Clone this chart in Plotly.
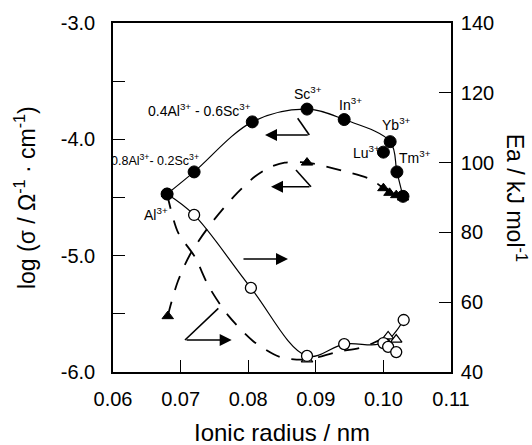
import plotly.graph_objects as go

FONT = "Liberation Sans, Arial, Helvetica, sans-serif"

# ---- log(sigma) : filled circles (left axis) ----
sig_labels = ["Al", "0.8Al-0.2Sc", "0.4Al-0.6Sc", "Sc", "In", "Yb", "Lu", "Tm", "end"]
sig_x = [0.0680, 0.0720, 0.0806, 0.0887, 0.0942, 0.1010, 0.1000, 0.1020, 0.1029]
sig_y = [-4.47, -4.28, -3.85, -3.74, -3.83, -4.02, -4.11, -4.28, -4.49]
sig_line_idx = [0, 1, 2, 3, 4, 5, 7, 8]   # solid curve (Lu lies off the curve)

# ---- log(sigma) : filled triangles (left axis) + hand drawn dashed curve ----
tri_x = [0.0681, 0.0887, 0.1000, 0.1009, 0.1019, 0.1029]
tri_y = [-5.52, -4.20, -4.42, -4.46, -4.48, -4.50]
curveA_x = [0.0681, 0.0686, 0.0696, 0.0714, 0.0743, 0.0779, 0.0810, 0.0832, 0.0854,
            0.0887, 0.0906, 0.0939, 0.0980, 0.1000, 0.1009, 0.1019, 0.1029]
curveA_y = [-5.52, -5.41, -5.22, -4.99, -4.74, -4.49, -4.32, -4.24, -4.20,
            -4.20, -4.22, -4.27, -4.34, -4.42, -4.46, -4.48, -4.50]

# ---- Ea : open circles (right axis) ----
ea_x = [0.0680, 0.0720, 0.0804, 0.0887, 0.0942, 0.1000, 0.1007, 0.1019, 0.1030]
ea_y = [91.0, 85.0, 64.1, 44.6, 48.0, 48.3, 47.2, 45.7, 54.9]
ea_line_idx = [0, 1, 2, 3, 4, 5, 8]

# ---- Ea : open triangles (right axis) + dashed curve ----
otri_x = [0.0680, 0.0887, 0.1003, 0.1007, 0.1019]
otri_y = [91.0, 43.6, 49.0, 50.2, 49.3]
curveB_x = [0.0680, 0.0696, 0.0721, 0.0742, 0.0770, 0.0807, 0.0847, 0.0887,
            0.0931, 0.0971, 0.1007, 0.1019]
curveB_y = [91.0, 80.1, 73.0, 64.4, 56.3, 48.9, 44.3, 43.6,
            45.7, 47.2, 50.0, 49.3]

# ---- axes ----
x_ticks = [0.06, 0.07, 0.08, 0.09, 0.10, 0.11]
x_ticktext = ["0.06", "0.07", "0.08", "0.09", "0.10", "0.11"]
y1_ticks = [-6.0, -5.5, -5.0, -4.5, -4.0, -3.5, -3.0]
y1_ticktext = ["-6.0", "", "-5.0", "", "-4.0", "", "-3.0"]
y2_ticks = [40, 60, 80, 100, 120, 140]
y2_ticktext = ["40", "60", "80", "100", "120", "140"]

# ---- point labels (text, x, y, anchor, font size) ----
point_labels = [
    ("Al<sup>3+</sup>", 0.06636, -4.640, "center", 14),
    ("0.8Al<sup>3+</sup>- 0.2Sc<sup>3+</sup>", 0.07305, -4.180, "right", 12.5),
    ("0.4Al<sup>3+</sup> - 0.6Sc<sup>3+</sup>", 0.08075, -3.750, "right", 14),
    ("Sc<sup>3+</sup>", 0.08885, -3.605, "center", 14),
    ("In<sup>3+</sup>", 0.09506, -3.700, "center", 14),
    ("Yb<sup>3+</sup>", 0.10201, -3.872, "center", 14),
    ("Lu<sup>3+</sup>", 0.09743, -4.113, "center", 14),
    ("Tm<sup>3+</sup>", 0.10467, -4.155, "center", 14),
]

BLACK = "black"
fig = go.Figure()

# Ea (right axis = yaxis, base layer)
fig.add_trace(go.Scatter(x=curveB_x, y=curveB_y, yaxis="y", mode="lines",
                         line=dict(color=BLACK, width=1.8, dash="15px,12px", shape="spline", smoothing=0.8),
                         hoverinfo="skip", showlegend=False))
fig.add_trace(go.Scatter(x=[ea_x[i] for i in ea_line_idx], y=[ea_y[i] for i in ea_line_idx],
                         yaxis="y", mode="lines",
                         line=dict(color=BLACK, width=1.2, shape="spline", smoothing=1.0),
                         showlegend=False))
fig.add_trace(go.Scatter(x=otri_x, y=otri_y, yaxis="y", mode="markers",
                         marker=dict(symbol="triangle-up", size=10, color="white",
                                     line=dict(color=BLACK, width=1.2)),
                         showlegend=False))
fig.add_trace(go.Scatter(x=ea_x, y=ea_y, yaxis="y", mode="markers",
                         marker=dict(symbol="circle", size=11, color="white",
                                     line=dict(color=BLACK, width=1.3)),
                         showlegend=False))

# log sigma (left axis = yaxis2, overlay layer on top)
fig.add_trace(go.Scatter(x=curveA_x, y=curveA_y, yaxis="y2", mode="lines",
                         line=dict(color=BLACK, width=1.8, dash="15px,12px", shape="spline", smoothing=0.8),
                         hoverinfo="skip", showlegend=False))
fig.add_trace(go.Scatter(x=tri_x, y=tri_y, yaxis="y2", mode="markers",
                         marker=dict(symbol="triangle-up", size=10, color=BLACK,
                                     line=dict(color=BLACK, width=1)),
                         showlegend=False))
fig.add_trace(go.Scatter(x=[sig_x[i] for i in sig_line_idx], y=[sig_y[i] for i in sig_line_idx],
                         yaxis="y2", mode="lines",
                         line=dict(color=BLACK, width=1.2, shape="spline", smoothing=1.0),
                         showlegend=False))
fig.add_trace(go.Scatter(x=sig_x, y=sig_y, yaxis="y2", mode="markers", text=sig_labels,
                         marker=dict(symbol="circle", size=12, color=BLACK,
                                     line=dict(color=BLACK, width=1)),
                         showlegend=False))

annotations = []
for txt, lx, ly, anchor, fs in point_labels:
    annotations.append(dict(x=lx, y=ly, xref="x", yref="y2", text=txt, showarrow=False,
                            xanchor=anchor, yanchor="middle",
                            font=dict(family=FONT, size=fs, color=BLACK)))

# indicator arrows: (diagonal start, corner, arrow tip)
arrows = [
    ((0.08732, -3.819), (0.08904, -3.963), (0.08249, -3.963)),
    ((0.08707, -4.264), (0.08929, -4.407), (0.08337, -4.407)),
    (None, (0.07908, -5.029), (0.08589, -5.029)),
    ((0.07558, -5.453), (0.07065, -5.725), (0.07756, -5.725)),
]
shapes = []
for start, corner, tip in arrows:
    if start is not None:
        shapes.append(dict(type="line", xref="x", yref="y2", x0=start[0], y0=start[1],
                           x1=corner[0], y1=corner[1], line=dict(color=BLACK, width=1.6)))
    annotations.append(dict(x=tip[0], y=tip[1], ax=corner[0], ay=corner[1],
                            xref="x", yref="y2", axref="x", ayref="y2", text="",
                            showarrow=True, arrowhead=2, arrowsize=1.6, arrowwidth=1.5,
                            arrowcolor=BLACK, standoff=0, startstandoff=0))

# axis titles
annotations.append(dict(x=0.5, y=-0.172, xref="paper", yref="paper", text="Ionic radius / nm",
                        showarrow=False, xanchor="center", yanchor="middle",
                        font=dict(family=FONT, size=24, color=BLACK)))
annotations.append(dict(x=-0.26, y=0.4986, xref="paper", yref="paper",
                        text="log (σ / Ω<sup>-1</sup> · cm<sup>-1</sup>)", textangle=-90,
                        showarrow=False, xanchor="center", yanchor="middle",
                        font=dict(family=FONT, size=23, color=BLACK)))
annotations.append(dict(x=1.193, y=0.4986, xref="paper", yref="paper",
                        text="Ea / kJ mol<sup>-1</sup>", textangle=90,
                        showarrow=False, xanchor="center", yanchor="middle",
                        font=dict(family=FONT, size=23, color=BLACK)))

axis_common = dict(showgrid=False, zeroline=False, showline=True, linecolor=BLACK, linewidth=1.6,
                   ticks="inside", ticklen=12, tickwidth=1.3, tickcolor=BLACK,
                   tickfont=dict(family=FONT, size=20, color=BLACK))

fig.update_layout(
    width=532, height=445, autosize=False,
    margin=dict(l=113, r=81, t=23, b=73, pad=0),
    paper_bgcolor="white", plot_bgcolor="white",
    font=dict(family=FONT, color=BLACK),
    xaxis=dict(range=[0.06, 0.11], tickvals=x_ticks, ticktext=x_ticktext, mirror=True,
               ticklabelstandoff=8, **axis_common),
    yaxis=dict(range=[40, 140], tickvals=y2_ticks, ticktext=y2_ticktext,
               side="right", ticklabelstandoff=4, **axis_common),
    yaxis2=dict(range=[-6.0, -3.0], tickvals=y1_ticks, ticktext=y1_ticktext, overlaying="y",
                side="left", ticklabelstandoff=12, **axis_common),
    annotations=annotations,
    shapes=shapes,
    showlegend=False,
)

fig.write_html("out.html", config={"displayModeBar": False},
               post_script="document.body.style.margin='0px';document.body.style.overflow='hidden';")
